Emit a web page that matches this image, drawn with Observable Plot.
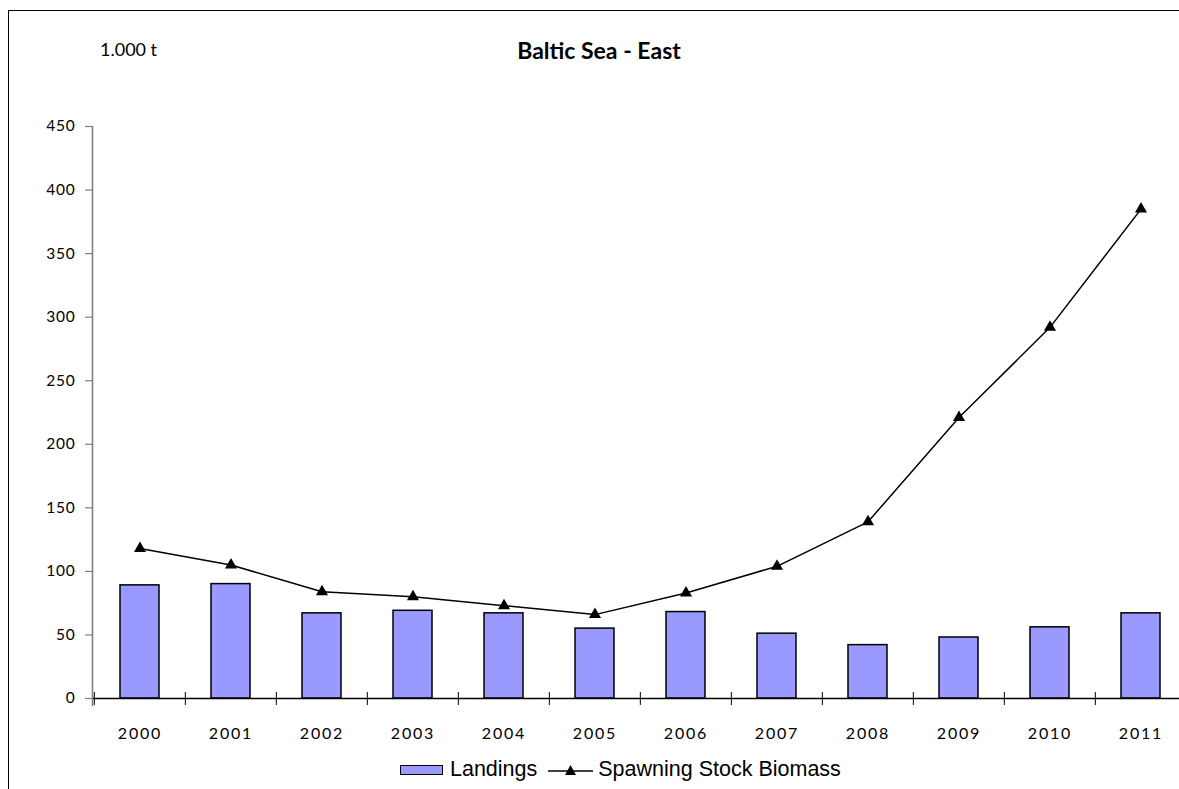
<!DOCTYPE html>
<html>
<head>
<meta charset="utf-8">
<script src="https://cdn.jsdelivr.net/npm/d3@7"></script>
<script src="https://cdn.jsdelivr.net/npm/@observablehq/plot@0.6"></script>
<style>
  html, body { margin: 0; padding: 0; background: #fff; overflow: hidden; }
  #page { position: relative; width: 1179px; height: 789px; overflow: hidden; background: #fff; }
  #bt { position: absolute; left: 8px; top: 10px; width: 1300px; height: 1px; background: #000; z-index: 5; }
  #bl { position: absolute; left: 8px; top: 10px; width: 1px; height: 900px; background: #000; }
  #chart { position: absolute; left: 0; top: 0; }
  #title { position: absolute; left: 0; width: 1198px; top: 36px; text-align: center; font: bold 23px Lato, "Open Sans", sans-serif; color: #000; }
  #unit { position: absolute; left: 100px; top: 38px; font: 18px Lato, "Open Sans", sans-serif; color: #000; }
  #legend { position: absolute; left: 400px; top: 757px; display: flex; align-items: center; font: 21.5px "Liberation Sans", Arial, sans-serif; color: #000; white-space: nowrap; }
  #legend .box { width: 41px; height: 8px; background: #9999FF; border: 1.5px solid #000; margin-right: 7px; }
  #legend svg { margin: 0 5px 0 11px; }
  #chart svg text { letter-spacing: 0.8px; }
  #chart svg g[aria-label="x-axis tick label"] text { letter-spacing: 1.8px; }
</style>
</head>
<body>
<div id="page">
  <div id="bt"></div>
  <div id="bl"></div>
  <div id="chart"></div>
  <div id="unit">1.000 t</div>
  <div id="title">Baltic Sea - East</div>
  <div id="legend">
    <div class="box"></div><span>Landings</span>
    <svg width="45" height="16" viewBox="0 0 45 16"><line x1="0" y1="9" x2="45" y2="9" stroke="#000" stroke-width="1.5"/><path d="M22.5 3 L28 13 L17 13 Z" fill="#000"/></svg>
    <span>Spawning Stock Biomass</span>
  </div>
</div>
<script>
const years = ["2000","2001","2002","2003","2004","2005","2006","2007","2008","2009","2010","2011"];
const landings = [89, 90, 67, 69, 67, 55, 68, 51, 42, 48, 56, 67];
const ssb = [118, 105, 84, 80, 73, 66, 83, 104, 139, 221, 292, 385];
const yTicks = [0, 50, 100, 150, 200, 250, 300, 350, 400, 450];

const data = years.map((year, i) => ({year, landings: landings[i], ssb: ssb[i]}));

const W = 1179, H = 745, mL = 92, mR = -9, mT = 126, mB = H - 698;
const step = (W - mR - mL) / years.length;

const chart = Plot.plot({
  width: W,
  height: H,
  marginLeft: mL,
  marginRight: mR,
  marginTop: mT,
  marginBottom: mB,
  x: {domain: years, paddingInner: 0.576, paddingOuter: 0.288, axis: null},
  y: {domain: [0, 450], axis: null},
  style: {fontFamily: "Lato, 'Open Sans', sans-serif", fontSize: "15px", color: "#000", background: "transparent"},
  marks: [
    Plot.barY(data, {x: "year", y: "landings", fill: "#9999FF", stroke: "#000", strokeWidth: 1.5}),
    Plot.ruleY([0], {stroke: "#000", strokeWidth: 1.3}),
    Plot.frame({anchor: "left", stroke: "#808080", strokeWidth: 1.6, insetBottom: -7}),
    Plot.axisY({ticks: yTicks, tickSize: 7, tickPadding: 10, stroke: "#808080", strokeWidth: 1.2, fill: "#000", fontSize: 15.5, label: null}),
    Plot.axisX({tickSize: 13, dy: -6, dx: -step / 2, tickFormat: () => "", stroke: "#000", label: null}),
    Plot.axisX({tickSize: 0, tickPadding: 29, fill: "#000", fontSize: 16, label: null}),
    Plot.line(data, {x: "year", y: "ssb", stroke: "#000", strokeWidth: 1.5}),
    Plot.dot(data, {x: "year", y: "ssb", symbol: "triangle", r: 4.5, fill: "#000", stroke: "none"})
  ]
});
document.getElementById("chart").appendChild(chart);
</script>
</body>
</html>
